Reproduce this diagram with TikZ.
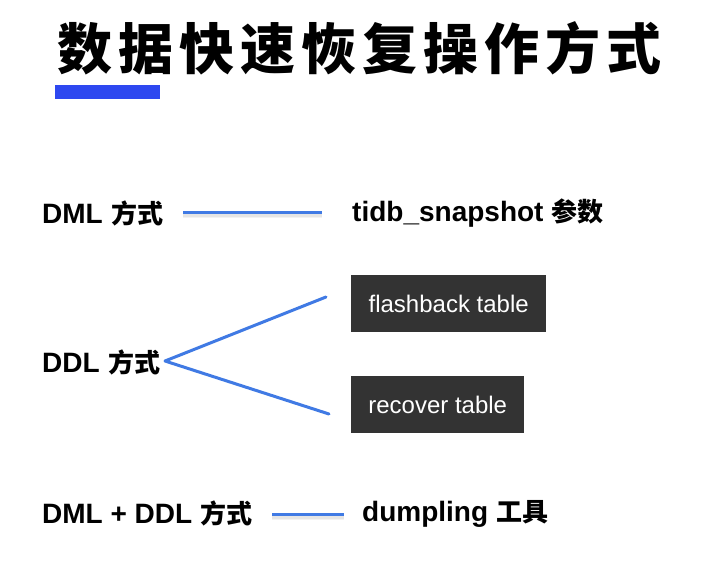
\documentclass[tikz,border=0pt]{standalone}
\usepackage{fontspec}
\setmainfont{Liberation Sans}
\newfontfamily\cjk{Noto Sans CJK SC}
\newfontfamily\cjktitle[LetterSpace=11]{Noto Sans CJK SC}
\newcommand{\zh}[1]{\hspace{0.5pt}{\cjk\fontsize{26}{30}\selectfont #1}}
\definecolor{barblue}{RGB}{46,72,240}
\definecolor{linkblue}{RGB}{64,122,228}
\definecolor{boxgray}{RGB}{51,51,51}
\begin{document}
\begin{tikzpicture}[x=1pt,y=-1pt,
  lbl/.style={anchor=west,inner sep=0pt,font=\fontsize{28}{32}\selectfont\bfseries},
  darkbox/.style={fill=boxgray,text=white,anchor=north west,inner sep=0pt,
    minimum height=57pt,font=\fontsize{24}{28}\selectfont},
  link/.style={draw=linkblue,line width=3pt},
  shade/.style={draw=black,line width=#1,opacity=0.05}]
  \fill[white] (0,0) rectangle (722,564);
  \useasboundingbox (0,0) rectangle (722,564);

  % heading and accent bar
  \node[anchor=west,inner sep=0pt,font=\cjktitle\fontsize{55}{60}\selectfont\bfseries]
    (title) at (57,48) {数据快速恢复操作方式};
  \fill[barblue] (55,85) rectangle (160,99);

  % row 1: DML
  \node[lbl] (dml) at (42,213) {DML \zh{方式}};
  \node[lbl] (snap) at (352,213) {tidb\_snapshot \zh{参数}};
  \coordinate (dmlA) at (183,212);
  \coordinate (dmlB) at (322,212);
  \foreach \w in {7pt,5pt} {
    \draw[shade=\w] ([yshift=-2pt]dmlA) -- ([yshift=-2pt]dmlB);
  }
  \draw[link] (dmlA) -- (dmlB);

  % row 2: DDL
  \node[lbl] (ddl) at (42,362) {DDL \zh{方式}};
  \node[darkbox,minimum width=195pt] (flash) at (351,275) {flashback table};
  \node[darkbox,minimum width=173pt] (recover) at (351,376) {recover table};
  \coordinate (fend) at (326,297);
  \coordinate (rend) at (329,414);
  \coordinate (fork) at (165,361);
  \draw[link,line cap=round,line join=round] (fend) -- (fork) -- (rend);

  % row 3: DML + DDL
  \node[lbl] (both) at (42,513) {DML + DDL \zh{方式}};
  \node[lbl] (dump) at (362,514) {dumpling \zh{工具}};
  \coordinate (bothA) at (272,514);
  \coordinate (bothB) at (344,514);
  \foreach \w in {7pt,5pt} {
    \draw[shade=\w] ([yshift=-2pt]bothA) -- ([yshift=-2pt]bothB);
  }
  \draw[link] (bothA) -- (bothB);
\end{tikzpicture}
\end{document}
